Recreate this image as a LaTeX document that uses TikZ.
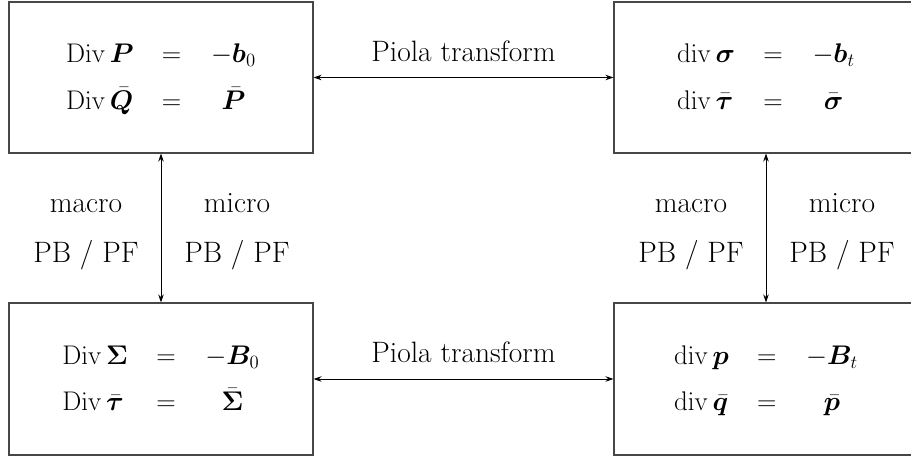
\documentclass[tikz,border=0pt]{standalone}
\usepackage{bm}
\usetikzlibrary{arrows.meta}
\tikzset{
  eqbox/.style={draw=black!72, line width=1.1pt, minimum width=304pt, minimum height=151pt, inner sep=0pt, align=center, font=\fontsize{20.74}{25}\selectfont},
  lbl/.style={anchor=base, inner sep=0pt, font=\fontsize{29.5}{35}\selectfont},
  link/.style={line width=0.9pt, {Stealth[length=8pt,width=5.5pt]}-{Stealth[length=8pt,width=5.5pt]}}
}
\newcommand{\eqs}[6]{\scalebox{1.3}{$\renewcommand{\arraystretch}{1.3}\begin{array}{l@{\hspace{1.05em}}c@{\hspace{1.1em}}c}#1&#2&#3\\[3pt]#4&#5&#6\end{array}$}}
\begin{document}
\begin{tikzpicture}[x=1pt,y=1pt]
\clip (0,0) rectangle (911,458);
\node[eqbox] (tl) at (161,380.5) {\eqs{\mathrm{Div}\,\bm{P}}{=}{-\bm{b}_0}{\mathrm{Div}\,\bar{\bm{Q}}}{=}{\bar{\bm{P}}}};
\node[eqbox] (tr) at (766,380.5) {\eqs{\mathrm{div}\,\bm{\sigma}}{=}{-\bm{b}_t}{\mathrm{div}\,\bar{\bm{\tau}}}{=}{\bar{\bm{\sigma}}}};
\node[eqbox, minimum height=152pt] (bl) at (161,79) {\eqs{\mathrm{Div}\,\bm{\Sigma}}{=}{-\bm{B}_0}{\mathrm{Div}\,\bar{\bm{\tau}}}{=}{\bar{\bm{\Sigma}}}};
\node[eqbox, minimum height=152pt] (br) at (766,79) {\eqs{\mathrm{div}\,\bm{p}}{=}{-\bm{B}_t}{\mathrm{div}\,\bar{\bm{q}}}{=}{\bar{\bm{p}}}};
\draw[link] (tl) -- (tr);
\draw[link] (bl) -- (br);
\draw[link] (tl) -- (bl);
\draw[link] (tr) -- (br);
\node[lbl] (p1) at (463.5,396) {Piola transform};
\node[lbl] (p2) at (463.5,95) {Piola transform};
\node[lbl] (ma1) at (86,245) {macro};
\node[lbl] (pb1) at (86,195) {PB / PF};
\node[lbl] (mi1) at (237,245) {micro};
\node[lbl] (pb2) at (237,195) {PB / PF};
\node[lbl] (ma2) at (691,245) {macro};
\node[lbl] (pb3) at (691,195) {PB / PF};
\node[lbl] (mi2) at (842,245) {micro};
\node[lbl] (pb4) at (842,195) {PB / PF};
\end{tikzpicture}
\end{document}
